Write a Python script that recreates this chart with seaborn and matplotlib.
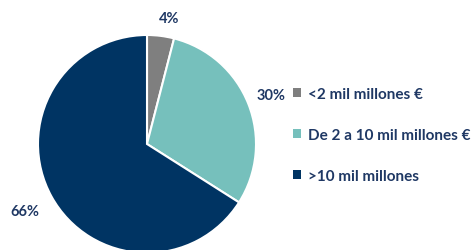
import matplotlib
matplotlib.use("Agg")
import numpy as np
import matplotlib.pyplot as plt
import seaborn as sns

# Setup
sns.set_theme(style="white")
plt.rcParams["font.family"] = ["Lato", "DejaVu Sans"]
plt.rcParams["font.weight"] = "bold"

# Data
categories = ["<2 mil millones €", "De 2 a 10 mil millones €", ">10 mil millones"]
shares = [4, 30, 66]
label_dist = [1.17, 1.22, 1.28]
colors = sns.color_palette(["#7F7F7F", "#76C0BC", "#003463"])
text_color = "#1F3864"

fig = plt.figure(figsize=(4.71, 2.51), dpi=100)
ax = fig.add_axes([38 / 471, -3 / 251, 218 / 471, 218 / 251])

wedges, _ = ax.pie(
    shares,
    colors=colors,
    startangle=90,
    counterclock=False,
    wedgeprops=dict(edgecolor="white", linewidth=1.5),
)
ax.set_xlim(-1, 1)
ax.set_ylim(-1, 1)
ax.set_aspect("equal")

# percentage labels outside the slices
for w, val, d in zip(wedges, shares, label_dist):
    ang = np.deg2rad((w.theta1 + w.theta2) / 2 - (3 if val < 10 else 0))
    ax.text(d * np.cos(ang), d * np.sin(ang), f"{val}%", ha="center", va="center",
            color=text_color, fontsize=10.5, fontweight="bold")

fig.legend(
    wedges,
    categories,
    loc="center left",
    bbox_to_anchor=(293 / 471, 1 - 136 / 251),
    frameon=False,
    prop=dict(size=11, weight="bold"),
    labelcolor=text_color,
    handlelength=0.5,
    handleheight=0.5,
    handletextpad=0.5,
    labelspacing=1.75,
    borderpad=0,
    borderaxespad=0,
)
for p in fig.legends[0].get_patches():
    p.set_edgecolor("none")

fig.savefig("out.png", dpi=100)
plt.close()
